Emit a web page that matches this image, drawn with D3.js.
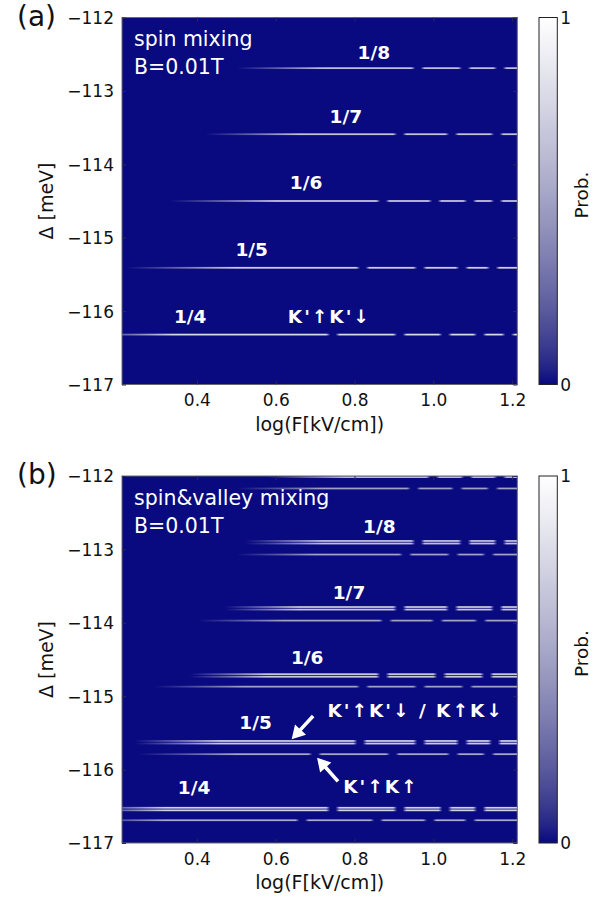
<!DOCTYPE html>
<html><head><meta charset="utf-8">
<script src="https://cdn.jsdelivr.net/npm/d3@7"></script>
<style>body{margin:0;background:#fff;} text{font-family:"DejaVu Sans",sans-serif;}</style>
</head><body><svg id="c" width="608" height="898"></svg>
<script>
// ---------------- data ----------------
const xTicks = [0.4, 0.6, 0.8, 1.0, 1.2];
const yTicks = [-112, -113, -114, -115, -116, -117];
const xDomain = [0.21, 1.213];
const yDomain = [-117, -112];
const probTicks = [0, 1];

// resonance lines: delta [meV], logF where it appears, logF where full, peak prob, dips (logF)
const linesA = [
  {delta: -112.69, start: 0.50, full: 0.72, peak: 0.64, gaps: [0.961, 1.080, 1.169]},
  {delta: -113.59, start: 0.42, full: 0.66, peak: 0.66, gaps: [0.915, 1.047, 1.161]},
  {delta: -114.50, start: 0.33, full: 0.60, peak: 0.68, gaps: [0.872, 1.004, 1.093, 1.161]},
  {delta: -115.41, start: 0.22, full: 0.50, peak: 0.72, gaps: [0.821, 0.966, 1.073, 1.151]},
  {delta: -116.32, start: 0.12, full: 0.34, peak: 0.78, gaps: [0.745, 0.915, 1.030, 1.118, 1.190]}
];
const linesB = [
  {delta: -112.015, start: 0.58, full: 0.78, peak: 0.64, gaps: [0.999, 1.085, 1.169]},
  {delta: -112.17, start: 0.50, full: 0.72, peak: 0.50, gaps: [0.95, 1.06, 1.15]},
  {delta: -112.885, start: 0.52, full: 0.72, peak: 0.66, gaps: [0.961, 1.080, 1.169]},
  {delta: -112.92, start: 0.52, full: 0.72, peak: 0.66, gaps: [0.961, 1.080, 1.169]},
  {delta: -113.07, start: 0.50, full: 0.70, peak: 0.50, gaps: [0.93, 1.05, 1.14]},
  {delta: -113.785, start: 0.47, full: 0.66, peak: 0.68, gaps: [0.915, 1.047, 1.161]},
  {delta: -113.82, start: 0.47, full: 0.66, peak: 0.68, gaps: [0.915, 1.047, 1.161]},
  {delta: -113.97, start: 0.40, full: 0.62, peak: 0.50, gaps: [0.88, 1.01, 1.12]},
  {delta: -114.70, start: 0.38, full: 0.58, peak: 0.69, gaps: [0.872, 1.017, 1.136]},
  {delta: -114.735, start: 0.38, full: 0.58, peak: 0.69, gaps: [0.872, 1.017, 1.136]},
  {delta: -114.87, start: 0.29, full: 0.52, peak: 0.50, gaps: [0.821, 0.966, 1.085]},
  {delta: -115.61, start: 0.24, full: 0.46, peak: 0.72, gaps: [0.814, 0.966, 1.073, 1.156]},
  {delta: -115.645, start: 0.24, full: 0.46, peak: 0.72, gaps: [0.814, 0.966, 1.073, 1.156]},
  {delta: -115.79, start: 0.25, full: 0.50, peak: 0.52, gaps: [0.70, 0.897, 1.05, 1.14]},
  {delta: -116.52, start: 0.12, full: 0.32, peak: 0.74, gaps: [0.745, 0.915, 1.030, 1.118]},
  {delta: -116.555, start: 0.12, full: 0.32, peak: 0.74, gaps: [0.745, 0.915, 1.030, 1.118]},
  {delta: -116.69, start: 0.12, full: 0.32, peak: 0.54, gaps: [0.667, 0.857, 0.991, 1.093]}
];

const labelsA = [
  {text: "1/8", x: 0.849, y: -112.565},
  {text: "1/7", x: 0.778, y: -113.437},
  {text: "1/6", x: 0.677, y: -114.336},
  {text: "1/5", x: 0.539, y: -115.245},
  {text: "1/4", x: 0.383, y: -116.166},
  {text: "K'\u2191K'\u2193", x: 0.736, y: -116.16}
];
const labelsB = [
  {text: "1/8", x: 0.863, y: -112.771},
  {text: "1/7", x: 0.786, y: -113.68},
  {text: "1/6", x: 0.680, y: -114.556},
  {text: "1/5", x: 0.549, y: -115.451},
  {text: "1/4", x: 0.393, y: -116.337},
  {text: "K'\u2191K'\u2193 / K\u2191K\u2193", x: 0.955, y: -115.283},
  {text: "K'\u2191K\u2191", x: 0.867, y: -116.319}
];
const arrowsB = [
  {from: [0.695, -115.27], to: [0.6405, -115.585]},
  {from: [0.758, -116.16], to: [0.705, -115.84]}
];

const panels = [
  {tag: "(a)", title: "spin mixing", field: "B=0.01T", top: 17.5, lines: linesA, labels: labelsA, arrows: []},
  {tag: "(b)", title: "spin&valley mixing", field: "B=0.01T", top: 476, lines: linesB, labels: labelsB, arrows: arrowsB}
];

// ---------------- drawing ----------------
const svg = d3.select("#c");
const defs = svg.append("defs");
const L = 122, R = 517.3, H = 367;
const cbL = 539, cbW = 18.3;
const color = d3.scaleLinear().domain([0, 1]).range(["#090980", "#ffffff"]).interpolate(d3.interpolateRgb.gamma(1.5));

panels.forEach((P, pi) => {
  const T = P.top, B = T + H;
  const x = d3.scaleLinear().domain(xDomain).range([L, R]);
  const y = d3.scaleLinear().domain(yDomain).range([B, T]);
  const g = svg.append("g");

  defs.append("clipPath").attr("id", "clip" + pi)
    .append("rect").attr("x", L).attr("y", T).attr("width", R - L).attr("height", H);

  g.append("rect").attr("x", L).attr("y", T).attr("width", R - L).attr("height", H)
    .attr("fill", color(0));

  const lg = g.append("g").attr("clip-path", `url(#clip${pi})`);
  const gx0 = -0.2, gx1 = 1.4, gOut = 0.017, gIn = 0.007;
  P.lines.forEach((ln, li) => {
    const id = `lg${pi}_${li}`;
    const grad = defs.append("linearGradient").attr("id", id)
      .attr("gradientUnits", "userSpaceOnUse")
      .attr("x1", x(gx0)).attr("x2", x(gx1)).attr("y1", 0).attr("y2", 0);
    const pts = [[gx0, 0], [ln.start, 0], [ln.full, ln.peak]];
    ln.gaps.forEach(gp => {
      pts.push([gp - gOut, ln.peak], [gp - gIn, 0], [gp + gIn, 0], [gp + gOut, ln.peak]);
    });
    pts.push([gx1, ln.peak]);
    pts.forEach(([v, p]) => {
      grad.append("stop").attr("offset", (v - gx0) / (gx1 - gx0)).attr("stop-color", color(p));
    });
    lg.append("rect").attr("x", L).attr("width", R - L)
      .attr("y", y(ln.delta + 0.012)).attr("height", y(ln.delta - 0.012) - y(ln.delta + 0.012))
      .attr("fill", `url(#${id})`);
  });

  // frame
  g.append("rect").attr("x", L).attr("y", T).attr("width", R - L).attr("height", H)
    .attr("fill", "none").attr("stroke", "#6a6a6a").attr("stroke-width", 1);

  // axes
  const ax = g.append("g").attr("transform", `translate(0,${B})`)
    .call(d3.axisBottom(x).tickValues(xTicks).tickFormat(d3.format(".1f")).tickSizeInner(-4).tickSizeOuter(0).tickPadding(10));
  const axT = g.append("g").attr("transform", `translate(0,${T})`)
    .call(d3.axisTop(x).tickValues(xTicks).tickSizeInner(-4).tickSizeOuter(0).tickFormat(""));
  const ay = g.append("g").attr("transform", `translate(${L},0)`)
    .call(d3.axisLeft(y).tickValues(yTicks).tickFormat(d3.format("d")).tickSizeInner(-4).tickSizeOuter(0).tickPadding(8));
  const ayR = g.append("g").attr("transform", `translate(${R},0)`)
    .call(d3.axisRight(y).tickValues(yTicks).tickSizeInner(-4).tickSizeOuter(0).tickFormat(""));
  [ax, axT, ay, ayR].forEach(a => {
    a.select(".domain").remove();
    a.selectAll(".tick line").attr("stroke", "#2a2a55");
    a.selectAll("text").attr("font-size", 17).attr("fill", "#111").style("font-family", "DejaVu Sans");
  });
  ax.selectAll("text").attr("dy", null).attr("dominant-baseline", "hanging").attr("y", 9);
  ay.selectAll("text").attr("dy", "0.35em");

  g.append("text").attr("x", (L + R) / 2).attr("y", B + 46).attr("text-anchor", "middle")
    .attr("font-size", 19).attr("fill", "#111").text("log(F[kV/cm])");
  g.append("text").attr("transform", `translate(46,${(T + B) / 2}) rotate(-90)`)
    .attr("text-anchor", "middle").attr("dominant-baseline", "central")
    .attr("font-size", 19).attr("fill", "#111").text("\u0394 [meV]");
  g.append("text").attr("x", 17).attr("y", T + 8).attr("font-size", 28).attr("fill", "#111").text(P.tag);

  // in-plot texts
  g.append("text").attr("x", L + 12).attr("y", T + 28.5).attr("font-size", 20.5).attr("fill", "#fff").text(P.title);
  g.append("text").attr("x", L + 12).attr("y", T + 56.5).attr("font-size", 20.5).attr("fill", "#fff").text(P.field);
  g.selectAll("text.lab").data(P.labels).join("text").attr("class", "lab")
    .attr("x", d => x(d.x)).attr("y", d => y(d.y)).attr("text-anchor", "middle")
    .attr("font-size", 18.5).attr("font-weight", "bold").attr("fill", "#fff")
    .attr("letter-spacing", d => d.text.includes("K") ? 2 : 0)
    .text(d => d.text);

  // arrows
  P.arrows.forEach(a => {
    const p0 = [x(a.from[0]), y(a.from[1])], p1 = [x(a.to[0]), y(a.to[1])];
    const dx = p1[0] - p0[0], dy = p1[1] - p0[1], len = Math.hypot(dx, dy);
    const ux = dx / len, uy = dy / len, px = -uy, py = ux;
    const hl = 13, hw = 7.5, sw = 1.8;
    const nx = p1[0] - ux * hl, ny = p1[1] - uy * hl;
    const poly = [
      [p0[0] + px * sw, p0[1] + py * sw], [nx + px * sw, ny + py * sw], [nx + px * hw, ny + py * hw],
      p1, [nx - px * hw, ny - py * hw], [nx - px * sw, ny - py * sw], [p0[0] - px * sw, p0[1] - py * sw]
    ];
    g.append("polygon").attr("points", poly.map(p => p.join(",")).join(" ")).attr("fill", "#fff");
  });

  // colorbar
  const cid = "cb" + pi;
  const cg = defs.append("linearGradient").attr("id", cid).attr("x1", 0).attr("x2", 0).attr("y1", 1).attr("y2", 0);
  d3.range(0, 1.0001, 0.05).forEach(t => cg.append("stop").attr("offset", t).attr("stop-color", color(t)));
  const cy = d3.scaleLinear().domain([0, 1]).range([B, T]);
  g.append("rect").attr("x", cbL).attr("y", T).attr("width", cbW).attr("height", H)
    .attr("fill", `url(#${cid})`).attr("stroke", "#222").attr("stroke-width", 1);
  g.selectAll("text.cbt").data(probTicks).join("text").attr("class", "cbt")
    .attr("x", cbL + cbW + 3).attr("y", d => cy(d)).attr("dominant-baseline", "central")
    .attr("font-size", 17).attr("fill", "#111").text(d => d);
  g.append("text").attr("transform", `translate(581,${(T + B) / 2 - 6}) rotate(-90)`)
    .attr("text-anchor", "middle").attr("dominant-baseline", "central")
    .attr("font-size", 18.5).attr("fill", "#111").text("Prob.");
});
</script></body></html>
